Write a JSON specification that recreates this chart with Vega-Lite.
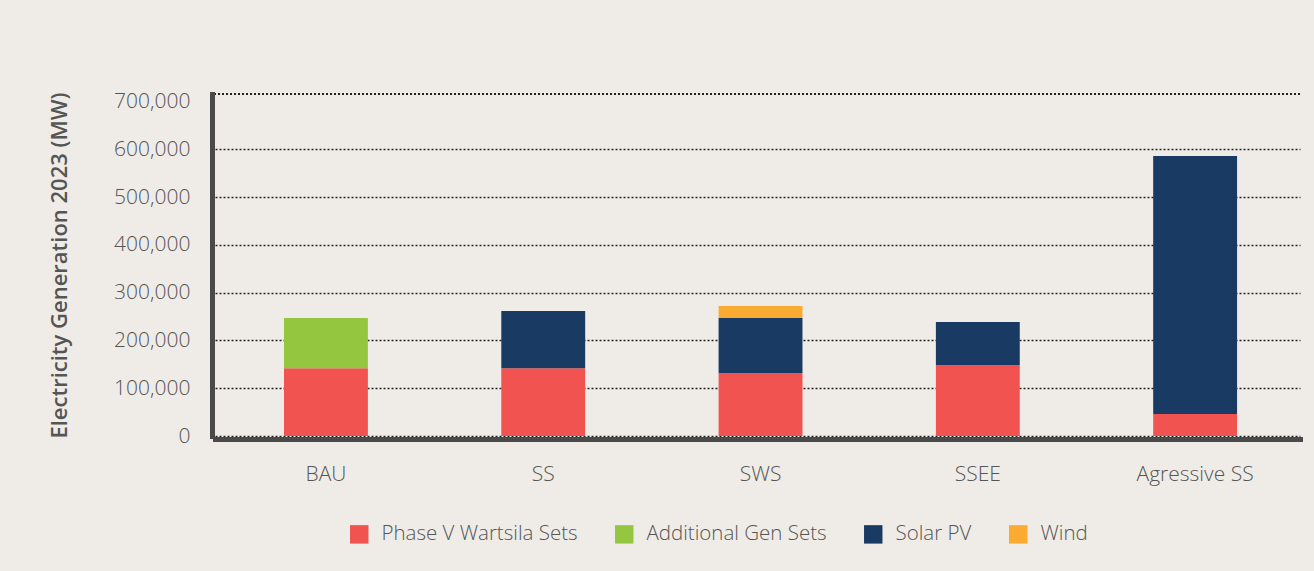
{
  "$schema": "https://vega.github.io/schema/vega-lite/v6.json",
  "autosize": "none",
  "width": 1085,
  "height": 342,
  "padding": {"left": 215, "top": 94, "right": 14, "bottom": 135},
  "background": "#efece7",
  "data": {
    "values": [
      {"scenario": "BAU", "source": "Phase V Wartsila Sets", "idx": 1, "mw": 142000},
      {"scenario": "BAU", "source": "Additional Gen Sets", "idx": 2, "mw": 105000},
      {"scenario": "SS", "source": "Phase V Wartsila Sets", "idx": 1, "mw": 142000},
      {"scenario": "SS", "source": "Solar PV", "idx": 3, "mw": 119500},
      {"scenario": "SWS", "source": "Phase V Wartsila Sets", "idx": 1, "mw": 132000},
      {"scenario": "SWS", "source": "Solar PV", "idx": 3, "mw": 115000},
      {"scenario": "SWS", "source": "Wind", "idx": 4, "mw": 25000},
      {"scenario": "SSEE", "source": "Phase V Wartsila Sets", "idx": 1, "mw": 148500},
      {"scenario": "SSEE", "source": "Solar PV", "idx": 3, "mw": 90000},
      {"scenario": "Agressive SS", "source": "Phase V Wartsila Sets", "idx": 1, "mw": 46000},
      {"scenario": "Agressive SS", "source": "Solar PV", "idx": 3, "mw": 540000}
    ]
  },
  "layer": [
    {
      "mark": {"type": "bar"},
      "encoding": {
        "x": {
          "field": "scenario",
          "type": "nominal",
          "sort": ["BAU", "SS", "SWS", "SSEE", "Agressive SS"],
          "scale": {"paddingInner": 0.614, "paddingOuter": 0.3036, "align": 0.523},
          "axis": {
            "title": null,
            "labelAngle": 0,
            "labelFont": "Open Sans",
            "labelFontWeight": 300,
            "labelFontSize": 21,
            "labelColor": "#555555",
            "labelPadding": 24,
            "ticks": false,
            "domainColor": "#4a4a4a",
            "domainWidth": 5,
            "domainCap": "square",
            "offset": 3
          }
        },
        "y": {
          "field": "mw",
          "type": "quantitative",
          "stack": "zero",
          "scale": {"domain": [0, 715500], "nice": false},
          "axis": {
            "title": "Electricity Generation 2023 (MW)",
            "titleFont": "Open Sans",
            "titleFontWeight": 600,
            "titleFontSize": 22,
            "titleColor": "#555555",
            "titlePadding": 42,
            "values": [0, 100000, 200000, 300000, 400000, 500000, 600000, 700000],
            "format": ",d",
            "labelFont": "Open Sans",
            "labelFontWeight": 300,
            "labelFontSize": 21,
            "labelColor": "#555555",
            "labelPadding": 22,
            "ticks": false,
            "domainColor": "#4a4a4a",
            "domainWidth": 5,
            "domainCap": "square",
            "offset": 3,
            "grid": true,
            "gridColor": "#222222",
            "gridWidth": 1.5,
            "gridDash": [2, 2],
            "gridOpacity": {"condition": {"test": "datum.value === 700000", "value": 0}, "value": 1}
          }
        },
        "color": {
          "field": "source",
          "type": "nominal",
          "scale": {
            "domain": ["Phase V Wartsila Sets", "Additional Gen Sets", "Solar PV", "Wind"],
            "range": ["#f05350", "#95c640", "#183a63", "#fbaa32"]
          },
          "legend": {
            "title": null,
            "orient": "none",
            "legendX": 134,
            "legendY": 430,
            "direction": "horizontal",
            "symbolType": "square",
            "symbolSize": 340,
            "symbolStrokeWidth": 0,
            "labelFont": "Open Sans",
            "labelFontWeight": 300,
            "labelFontSize": 20.5,
            "labelColor": "#555555",
            "labelOffset": 12,
            "columnPadding": 36,
            "labelLimit": 300
          }
        },
        "order": {"field": "idx", "type": "quantitative", "sort": "ascending"}
      }
    },
    {
      "mark": {"type": "rule", "color": "#222222", "strokeWidth": 1.5, "strokeDash": [2, 2]},
      "encoding": {"y": {"datum": 715500}}
    }
  ],
  "config": {
    "view": {"stroke": null}
  }
}
